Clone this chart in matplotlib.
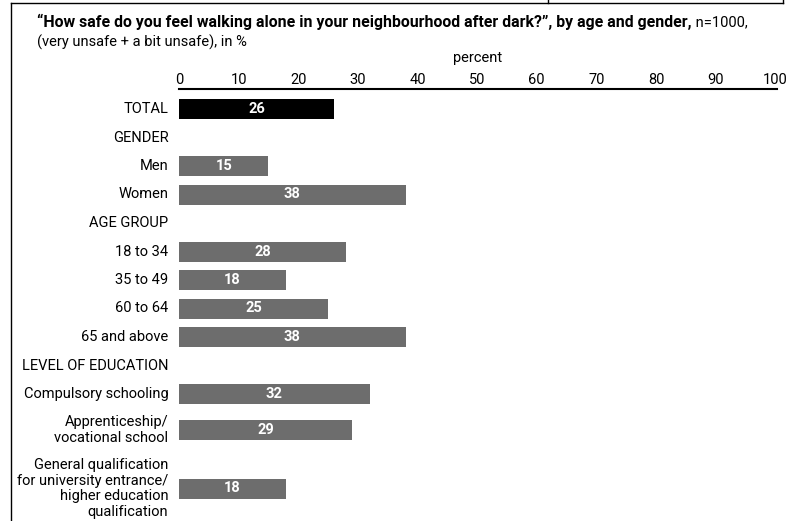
import matplotlib.pyplot as plt
from matplotlib.lines import Line2D

plt.rcParams['font.family'] = ['Roboto', 'DejaVu Sans']

# Daten
labels = ['TOTAL', 'GENDER', 'Men', 'Women', 'AGE GROUP', '18 to 34', '35 to 49',
          '60 to 64', '65 and above', 'LEVEL OF EDUCATION', 'Compulsory schooling',
          'Apprenticeship/\nvocational school',
          'General qualification\nfor university entrance/\nhigher education\nqualification']
values = [26, None, 15, 38, None, 28, 18, 25, 38, None, 32, 29, 18]
is_total = [True] + [False] * 12
ticks = [0, 10, 20, 30, 40, 50, 60, 70, 80, 90, 100]

W, H = 788, 521
fig = plt.figure(figsize=(W / 100, H / 100), dpi=100)

ax_top, ax_left, ax_right = 89, 179, 777
ax = fig.add_axes([ax_left / W, 0, (ax_right - ax_left) / W, (H - ax_top) / H])

# Zeilenpositionen (in Pixeln ab Achse), mehrzeilige Labels brauchen mehr Platz
step, extra = 28.5, 15
heights = [step + extra * (lab.count('\n')) for lab in labels]
pos = [20]
for i in range(1, len(labels)):
    pos.append(pos[-1] + (heights[i - 1] + heights[i]) / 2)

for p, lab, v, tot in zip(pos, labels, values, is_total):
    ax.text(-1.8, p, lab, ha='right', va='center', fontsize=10.5, linespacing=1.15)
    if v is None:
        continue
    ax.barh(p, v, height=20, left=0, color='black' if tot else '#6d6d6d')
    ax.text(v / 2, p, str(v), ha='center', va='center', color='white',
            fontsize=10.5, fontweight='bold')

ax.set_xlim(0, 100.3)
ax.set_ylim(H - ax_top, 0)
ax.xaxis.tick_top()
ax.xaxis.set_label_position('top')
ax.set_xticks(ticks)
ax.tick_params(axis='x', length=0, pad=1.5, labelsize=10.5)
ax.set_yticks([])
ax.set_xlabel('percent', fontsize=10.5, labelpad=8)
for s in ['left', 'right', 'bottom']:
    ax.spines[s].set_visible(False)
ax.spines['top'].set_linewidth(1.5)

# Titel (fett + normal)
t1 = fig.text(37 / W, 1 - 22 / H, '\u201cHow safe do you feel walking alone in your neighbourhood after dark?\u201d, by age and gender,',
              fontsize=11.4, fontweight='bold', va='center')
fig.canvas.draw()
bb = t1.get_window_extent(fig.canvas.get_renderer())
fig.text(bb.x1 / W, 1 - 22 / H, ' n=1000,', fontsize=10.5, va='center')
fig.text(37 / W, 1 - 42 / H, '(very unsafe + a bit unsafe), in %', fontsize=10.5, va='center')

# Rahmen
fig.add_artist(Line2D([11 / W, 783 / W], [1 - 3 / H, 1 - 3 / H], color='black', lw=1))
fig.add_artist(Line2D([11 / W, 11 / W], [1 - 3 / H, 0], color='black', lw=1))
fig.add_artist(Line2D([548 / W, 548 / W], [1, 1 - 3 / H], color='black', lw=1))
fig.add_artist(Line2D([783 / W, 783 / W], [1, 1 - 3 / H], color='black', lw=1))

fig.savefig('out.png', dpi=100)
